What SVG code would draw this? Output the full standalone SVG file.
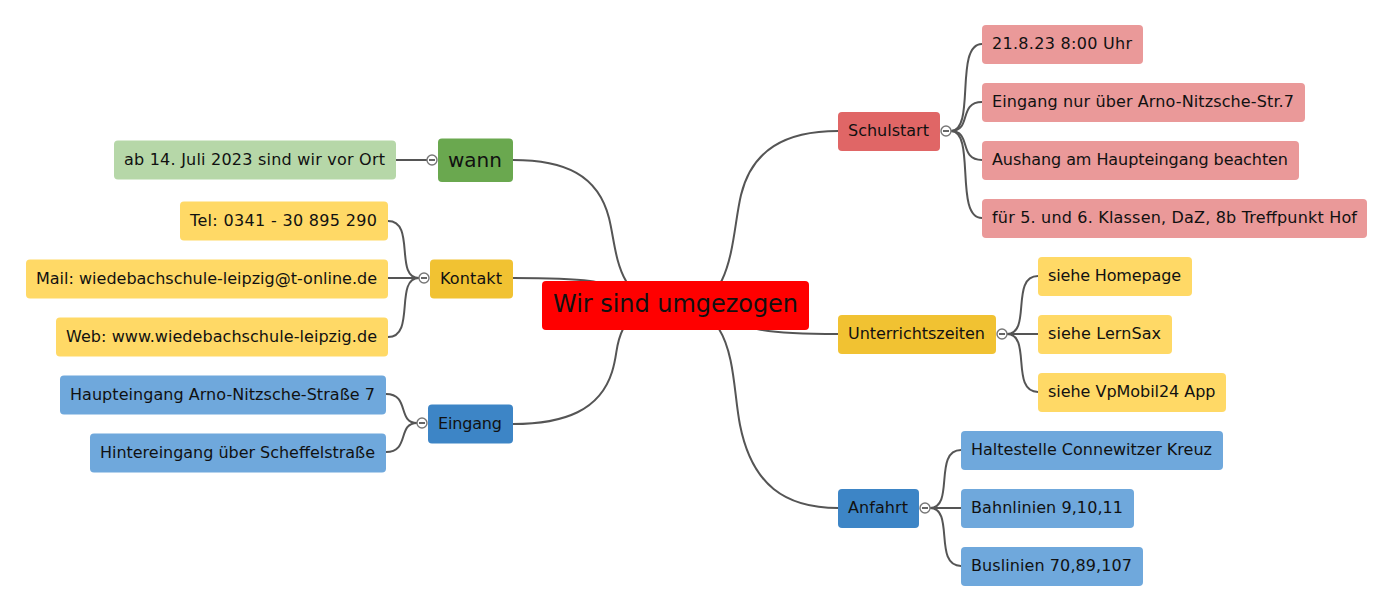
<svg xmlns="http://www.w3.org/2000/svg" width="1392" height="610" viewBox="0 0 1392 610">
<style>
text{font-family:"DejaVu Sans",sans-serif;font-size:16px;fill:#111}
.n{rx:4px;ry:4px}
.c path{fill:none;stroke:#555;stroke-width:2}
.t circle{fill:#fff;stroke:#777;stroke-width:1.4}
.t path{fill:none;stroke:#666;stroke-width:2}
.red1{fill:#e06666}.red2{fill:#ea9999}.yel1{fill:#f1c232}.yel2{fill:#ffd966}.blu1{fill:#3d85c6}.blu2{fill:#6fa8dc}.grn1{fill:#6aa84f}.grn2{fill:#b6d7a8}
</style>
<defs>
<g id="toggle" class="t"><circle r="5"/><path d="M-3 0H3"/></g>
</defs>
<g id="connectors" class="c">
<path d="M513 160C565 160 598 175 609 218C614 238 615 262 626 281C633 293 650 305 675 305"/>
<path d="M513 278C550 278 575 279 590 281C620 285 650 305 675 305"/>
<path d="M513 424C565 424 600 410 612 372C618 353 615 345 623 329C630 315 650 305 675 305"/>
<path d="M838 131C785 131 752 150 741 195C735 220 734 255 722 280C715 295 700 305 675 305"/>
<path d="M838 334C800 334 775 333 757 329C725 322 700 305 675 305"/>
<path d="M838 508C785 508 752 485 740 425C734 395 735 355 719 329C712 317 700 305 675 305"/>
<path d="M951 131C976 131 954 44 982 44"/>
<path d="M951 131C972 131 958 102 982 102"/>
<path d="M951 131C972 131 958 160 982 160"/>
<path d="M951 131C976 131 954 218 982 218"/>
<path d="M1007 334C1032 334 1010 276 1038 276"/>
<path d="M1007 334H1038"/>
<path d="M1007 334C1032 334 1010 392 1038 392"/>
<path d="M930 508C955 508 933 450 961 450"/>
<path d="M930 508H961"/>
<path d="M930 508C955 508 933 566 961 566"/>
<path d="M396 160H427"/>
<path d="M419 278C394 278 416 221 388 221"/>
<path d="M419 278H388"/>
<path d="M419 278C394 278 416 337 388 337"/>
<path d="M417 423C397 423 410 394 386 394"/>
<path d="M417 423C397 423 410 452 386 452"/>
</g>
<g id="root"><rect class="n" x="542" y="281" width="267" height="49" fill="#f00"/><text x="553" y="312" textLength="245" style="font-size:24px">Wir sind umgezogen</text></g>
<g id="schulstart"><rect class="n red1" x="838" y="112" width="102" height="39"/><text x="848" y="136">Schulstart</text><use href="#toggle" x="946" y="131"/></g>
<g id="s1"><rect class="n red2" x="982" y="25" width="161" height="39"/><text x="992" y="49" textLength="140">21.8.23 8:00 Uhr</text></g>
<g id="s2"><rect class="n red2" x="982" y="83" width="323" height="39"/><text x="992" y="107" textLength="302">Eingang nur über Arno-Nitzsche-Str.7</text></g>
<g id="s3"><rect class="n red2" x="982" y="141" width="317" height="39"/><text x="992" y="165" textLength="296">Aushang am Haupteingang beachten</text></g>
<g id="s4"><rect class="n red2" x="982" y="199" width="385" height="39"/><text x="992" y="223" textLength="365">für 5. und 6. Klassen, DaZ, 8b Treffpunkt Hof</text></g>
<g id="unterricht"><rect class="n yel1" x="838" y="315" width="158" height="39"/><text x="848" y="339" textLength="137">Unterrichtszeiten</text><use href="#toggle" x="1002" y="334"/></g>
<g id="u1"><rect class="n yel2" x="1038" y="257" width="154" height="39"/><text x="1048" y="281" textLength="133">siehe Homepage</text></g>
<g id="u2"><rect class="n yel2" x="1038" y="315" width="134" height="39"/><text x="1048" y="339" textLength="113">siehe LernSax</text></g>
<g id="u3"><rect class="n yel2" x="1038" y="373" width="188" height="39"/><text x="1048" y="397" textLength="167.5">siehe VpMobil24 App</text></g>
<g id="anfahrt"><rect class="n blu1" x="838" y="489" width="81" height="39"/><text x="848" y="513" textLength="60">Anfahrt</text><use href="#toggle" x="925" y="508"/></g>
<g id="a1"><rect class="n blu2" x="961" y="431" width="262" height="39"/><text x="971" y="455" textLength="241">Haltestelle Connewitzer Kreuz</text></g>
<g id="a2"><rect class="n blu2" x="961" y="489" width="173" height="39"/><text x="971" y="513" textLength="152">Bahnlinien 9,10,11</text></g>
<g id="a3"><rect class="n blu2" x="961" y="547" width="182" height="39"/><text x="971" y="571" textLength="161">Buslinien 70,89,107</text></g>
<g id="wann"><rect class="n grn1" x="438" y="138.5" width="75" height="43.5"/><text x="448" y="167" style="font-size:20px">wann</text><use href="#toggle" x="432" y="160"/></g>
<g id="w1"><rect class="n grn2" x="114" y="140.5" width="282" height="39"/><text x="124" y="165" textLength="261">ab 14. Juli 2023 sind wir vor Ort</text></g>
<g id="kontakt"><rect class="n yel1" x="430" y="259.5" width="83" height="39"/><text x="440" y="284" textLength="62">Kontakt</text><use href="#toggle" x="424" y="278"/></g>
<g id="k1"><rect class="n yel2" x="180" y="201.5" width="208" height="39"/><text x="190" y="226" textLength="187">Tel: 0341 - 30 895 290</text></g>
<g id="k2"><rect class="n yel2" x="26" y="259.5" width="362" height="39"/><text x="36" y="284" textLength="341">Mail: wiedebachschule-leipzig@t-online.de</text></g>
<g id="k3"><rect class="n yel2" x="56" y="317.5" width="332" height="39"/><text x="66" y="342" textLength="311">Web: www.wiedebachschule-leipzig.de</text></g>
<g id="eingang"><rect class="n blu1" x="428" y="404.5" width="85" height="39"/><text x="438" y="429" textLength="64">Eingang</text><use href="#toggle" x="422" y="423"/></g>
<g id="e1"><rect class="n blu2" x="60" y="375.5" width="326" height="39"/><text x="70" y="400" textLength="305">Haupteingang Arno-Nitzsche-Straße 7</text></g>
<g id="e2"><rect class="n blu2" x="90" y="433.5" width="296" height="39"/><text x="100" y="458" textLength="275">Hintereingang über Scheffelstraße</text></g>
</svg>
